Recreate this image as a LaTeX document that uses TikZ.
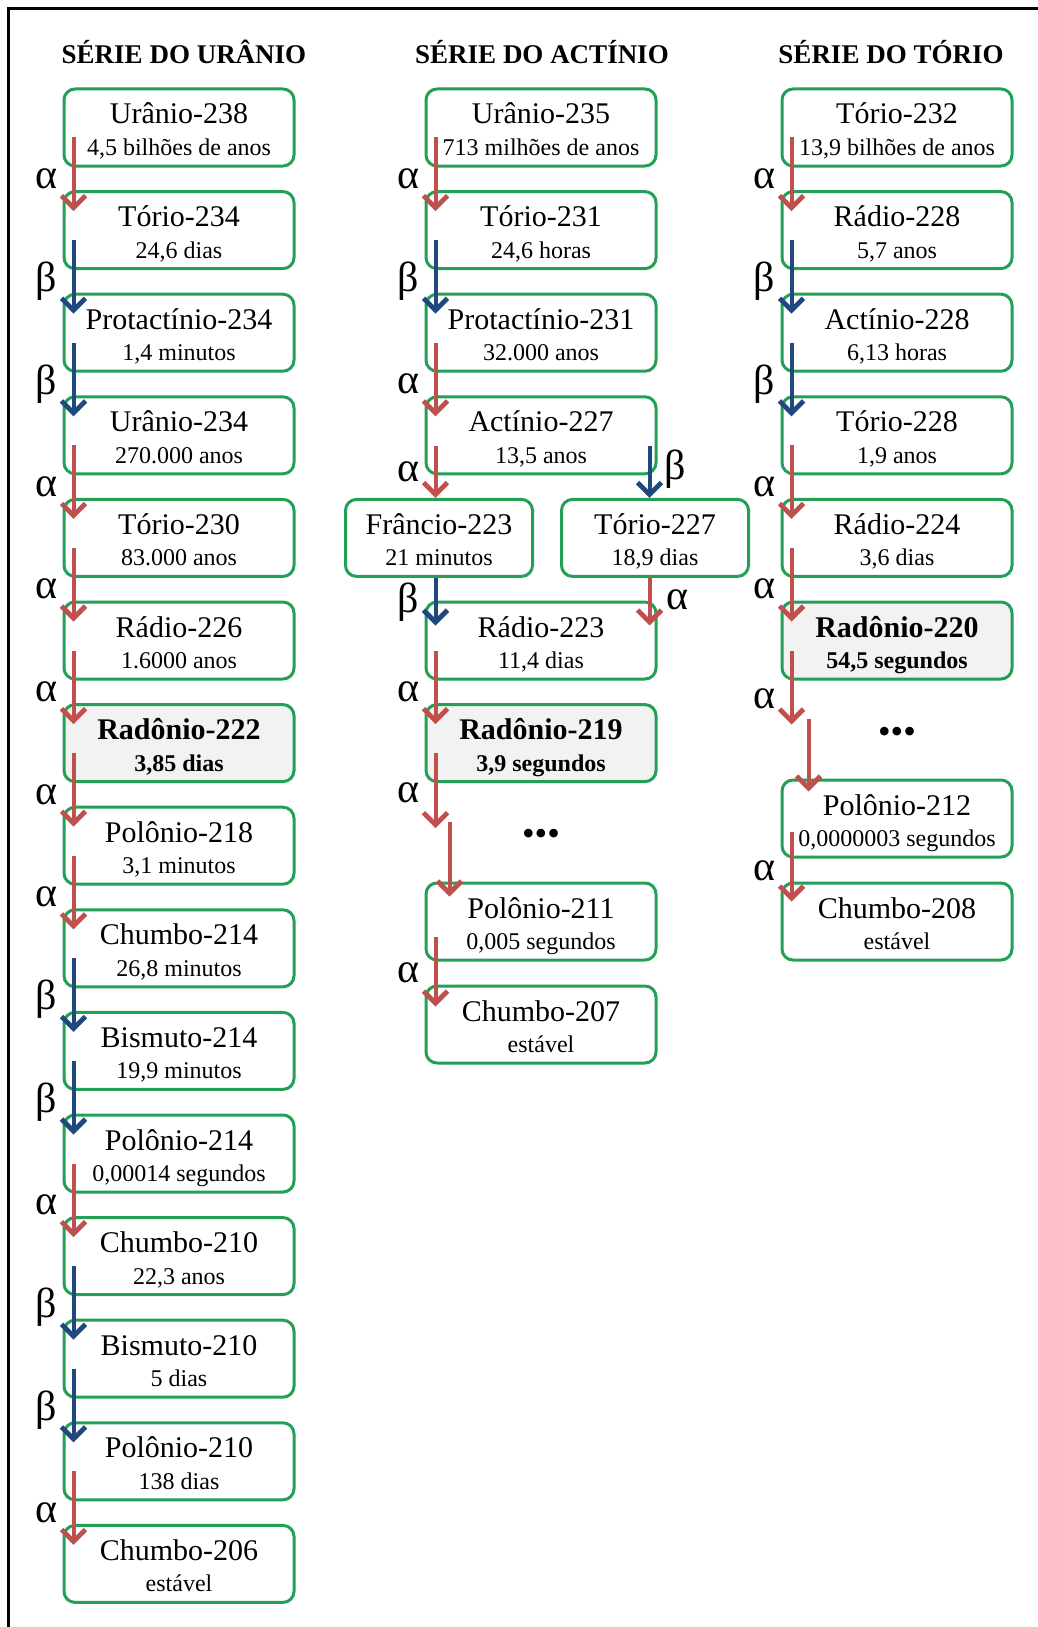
\documentclass[tikz,border=0pt]{standalone}
\usepackage{fontspec}
\setmainfont{Liberation Serif}
\usetikzlibrary{arrows.meta, calc}
\definecolor{isogreen}{RGB}{35,160,85}
\definecolor{alphared}{RGB}{192,80,77}
\definecolor{betablue}{RGB}{31,73,125}
\definecolor{radongray}{RGB}{242,242,242}

\begin{document}
\begin{tikzpicture}[x=0.5pt, y=-0.5pt, >={Straight Barb[length=6pt,width=12pt,line width=2.4pt]},
	iso/.style={draw=isogreen, line width=1.5pt, rounded corners=5.5pt, minimum width=115pt, minimum height=38.5pt, inner sep=0pt, text height=10pt, text depth=13.5pt, font=\fontsize{15}{18}\selectfont},
	radon/.style={iso, fill=radongray, font=\fontsize{15}{18}\selectfont\bfseries},
	small/.style={minimum width=93.5pt},
	hl/.style={anchor=base, label distance=-6pt, inner sep=0pt, font=\fontsize{12}{14}\selectfont},
	hlb/.style={hl, font=\fontsize{12}{14}\selectfont\bfseries},
	adecay/.style={->, line width=2pt, alphared},
	bdecay/.style={->, line width=2pt, betablue},
	dlbl/.style={font=\fontsize{21}{24}\selectfont, inner sep=0pt, text=black},
	serie/.style={font=\fontsize{13.5}{16}\selectfont\bfseries},
	dots/.style={font=\fontsize{18}{20}\selectfont}]
		\useasboundingbox (0,0) rectangle (1038,1627);
		\draw[line width=1.5pt] (8,1627) -- (8,9) -- (1038,9);
		\node[serie] (tu) at (184,52) {SÉRIE DO URÂNIO}; \node[serie] (ta) at (542,52) {SÉRIE DO ACTÍNIO}; \node[serie] (tt) at (891,52) {SÉRIE DO TÓRIO};

		\node[iso, label={[hl]south:4,5 bilhões de anos}] (u0) at (179,127.5) {Urânio-238};
		\node[iso, label={[hl]south:24,6 dias}] (u1) at (179,230.1) {Tório-234};
		\node[iso, label={[hl]south:1,4 minutos}] (u2) at (179,332.7) {Protactínio-234};
		\node[iso, label={[hl]south:270.000 anos}] (u3) at (179,435.3) {Urânio-234};
		\node[iso, label={[hl]south:83.000 anos}] (u4) at (179,537.9) {Tório-230};
		\node[iso, label={[hl]south:1.6000 anos}] (u5) at (179,640.5) {Rádio-226};
		\node[radon, label={[hlb]south:3,85 dias}] (u6) at (179,743.1) {Radônio-222};
		\node[iso, label={[hl]south:3,1 minutos}] (u7) at (179,845.7) {Polônio-218};
		\node[iso, label={[hl]south:26,8 minutos}] (u8) at (179,948.3) {Chumbo-214};
		\node[iso, label={[hl]south:19,9 minutos}] (u9) at (179,1050.9) {Bismuto-214};
		\node[iso, label={[hl]south:0,00014 segundos}] (u10) at (179,1153.5) {Polônio-214};
		\node[iso, label={[hl]south:22,3 anos}] (u11) at (179,1256.1) {Chumbo-210};
		\node[iso, label={[hl]south:5 dias}] (u12) at (179,1358.7) {Bismuto-210};
		\node[iso, label={[hl]south:138 dias}] (u13) at (179,1461.3) {Polônio-210};
		\node[iso, label={[hl]south:estável}] (u14) at (179,1563.9) {Chumbo-206};

		\draw[adecay] ([xshift=5.5pt,yshift=15pt]u0.south west) -- node[dlbl,pos=.56,xshift=-13.5pt]{α} ([xshift=5.5pt,yshift=-10.5pt]u1.north west);
		\draw[bdecay] ([xshift=5.5pt,yshift=15pt]u1.south west) -- node[dlbl,pos=.56,xshift=-13.5pt]{β} ([xshift=5.5pt,yshift=-10.5pt]u2.north west);
		\draw[bdecay] ([xshift=5.5pt,yshift=15pt]u2.south west) -- node[dlbl,pos=.56,xshift=-13.5pt]{β} ([xshift=5.5pt,yshift=-10.5pt]u3.north west);
		\draw[adecay] ([xshift=5.5pt,yshift=15pt]u3.south west) -- node[dlbl,pos=.56,xshift=-13.5pt]{α} ([xshift=5.5pt,yshift=-10.5pt]u4.north west);
		\draw[adecay] ([xshift=5.5pt,yshift=15pt]u4.south west) -- node[dlbl,pos=.56,xshift=-13.5pt]{α} ([xshift=5.5pt,yshift=-10.5pt]u5.north west);
		\draw[adecay] ([xshift=5.5pt,yshift=15pt]u5.south west) -- node[dlbl,pos=.56,xshift=-13.5pt]{α} ([xshift=5.5pt,yshift=-10.5pt]u6.north west);
		\draw[adecay] ([xshift=5.5pt,yshift=15pt]u6.south west) -- node[dlbl,pos=.56,xshift=-13.5pt]{α} ([xshift=5.5pt,yshift=-10.5pt]u7.north west);
		\draw[adecay] ([xshift=5.5pt,yshift=15pt]u7.south west) -- node[dlbl,pos=.56,xshift=-13.5pt]{α} ([xshift=5.5pt,yshift=-10.5pt]u8.north west);
		\draw[bdecay] ([xshift=5.5pt,yshift=15pt]u8.south west) -- node[dlbl,pos=.56,xshift=-13.5pt]{β} ([xshift=5.5pt,yshift=-10.5pt]u9.north west);
		\draw[bdecay] ([xshift=5.5pt,yshift=15pt]u9.south west) -- node[dlbl,pos=.56,xshift=-13.5pt]{β} ([xshift=5.5pt,yshift=-10.5pt]u10.north west);
		\draw[adecay] ([xshift=5.5pt,yshift=15pt]u10.south west) -- node[dlbl,pos=.56,xshift=-13.5pt]{α} ([xshift=5.5pt,yshift=-10.5pt]u11.north west);
		\draw[bdecay] ([xshift=5.5pt,yshift=15pt]u11.south west) -- node[dlbl,pos=.56,xshift=-13.5pt]{β} ([xshift=5.5pt,yshift=-10.5pt]u12.north west);
		\draw[bdecay] ([xshift=5.5pt,yshift=15pt]u12.south west) -- node[dlbl,pos=.56,xshift=-13.5pt]{β} ([xshift=5.5pt,yshift=-10.5pt]u13.north west);
		\draw[adecay] ([xshift=5.5pt,yshift=15pt]u13.south west) -- node[dlbl,pos=.56,xshift=-13.5pt]{α} ([xshift=5.5pt,yshift=-10.5pt]u14.north west);

		\node[iso, label={[hl]south:713 milhões de anos}] (a0) at (541,127.5) {Urânio-235};
		\node[iso, label={[hl]south:24,6 horas}] (a1) at (541,230.1) {Tório-231};
		\node[iso, label={[hl]south:32.000 anos}] (a2) at (541,332.7) {Protactínio-231};
		\node[iso, label={[hl]south:13,5 anos}] (a3) at (541,435.3) {Actínio-227};
		\node[iso, small, label={[hl]south:21 minutos}] (fr) at (439,537.9) {Frâncio-223}; \node[iso, small, label={[hl]south:18,9 dias}] (th7) at (655,537.9) {Tório-227};
		\node[iso, label={[hl]south:11,4 dias}] (a5) at (541,640.5) {Rádio-223};
		\node[radon, label={[hlb]south:3,9 segundos}] (a6) at (541,743.1) {Radônio-219};
		\node[dots] (adots) at (541,837) {•••};
		\node[iso, label={[hl]south:0,005 segundos}] (a7) at (541,921.5) {Polônio-211};
		\node[iso, label={[hl]south:estável}] (a8) at (541,1024.5) {Chumbo-207};

		\draw[adecay] ([xshift=5.5pt,yshift=15pt]a0.south west) -- node[dlbl,pos=.56,xshift=-13.5pt]{α} ([xshift=5.5pt,yshift=-10.5pt]a1.north west);
		\draw[bdecay] ([xshift=5.5pt,yshift=15pt]a1.south west) -- node[dlbl,pos=.56,xshift=-13.5pt]{β} ([xshift=5.5pt,yshift=-10.5pt]a2.north west);
		\draw[adecay] ([xshift=5.5pt,yshift=15pt]a2.south west) -- node[dlbl,pos=.56,xshift=-13.5pt]{α} ([xshift=5.5pt,yshift=-10.5pt]a3.north west);
		\draw[adecay] ([xshift=5.5pt,yshift=14.5pt]a3.south west) -- node[dlbl,pos=.5,xshift=-13.5pt]{α} ([xshift=5.5pt]a3.south west |- fr.north);
		\draw[bdecay] ([xshift=-4pt,yshift=14.5pt]a3.south east) -- node[dlbl,pos=.45,xshift=13pt]{β} ([xshift=-4pt]a3.south east |- th7.north);
		\draw[bdecay] ([xshift=5.5pt]a5.north west |- fr.south) -- node[dlbl,pos=.5,xshift=-13.5pt]{β} ([xshift=5.5pt,yshift=-12.5pt]a5.north west);
		\draw[adecay] ([xshift=-4pt]a5.north east |- th7.south) -- node[dlbl,pos=.45,xshift=14pt]{α} ([xshift=-4pt,yshift=-12.5pt]a5.north east);
		\draw[adecay] ([xshift=5.5pt,yshift=15pt]a5.south west) -- node[dlbl,pos=.56,xshift=-13.5pt]{α} ([xshift=5.5pt,yshift=-10.5pt]a6.north west);
		\draw[adecay] ([xshift=5.5pt,yshift=15pt]a6.south west) -- node[dlbl,pos=.53,xshift=-13.5pt]{α} ([xshift=5.5pt,yshift=-22.5pt]a6.south west);
		\draw[adecay] ([xshift=12.5pt,yshift=30pt]a7.north west) -- ([xshift=12.5pt,yshift=-7.5pt]a7.north west);
		\draw[adecay] ([xshift=5.5pt,yshift=12.5pt]a7.south west) -- node[dlbl,pos=.52,xshift=-13.5pt]{α} ([xshift=5.5pt,yshift=-11pt]a8.north west);

		\node[iso, label={[hl]south:13,9 bilhões de anos}] (t0) at (897,127.5) {Tório-232};
		\node[iso, label={[hl]south:5,7 anos}] (t1) at (897,230.1) {Rádio-228};
		\node[iso, label={[hl]south:6,13 horas}] (t2) at (897,332.7) {Actínio-228};
		\node[iso, label={[hl]south:1,9 anos}] (t3) at (897,435.3) {Tório-228};
		\node[iso, label={[hl]south:3,6 dias}] (t4) at (897,537.9) {Rádio-224};
		\node[radon, label={[hlb]south:54,5 segundos}] (t5) at (897,640.5) {Radônio-220};
		\node[dots] (tdots) at (897,735) {•••};
		\node[iso, label={[hl]south:0,0000003 segundos}] (t6) at (897,818.5) {Polônio-212};
		\node[iso, label={[hl]south:estável}] (t7) at (897,921.5) {Chumbo-208};

		\draw[adecay] ([xshift=5.5pt,yshift=15pt]t0.south west) -- node[dlbl,pos=.56,xshift=-13.5pt]{α} ([xshift=5.5pt,yshift=-10.5pt]t1.north west);
		\draw[bdecay] ([xshift=5.5pt,yshift=15pt]t1.south west) -- node[dlbl,pos=.56,xshift=-13.5pt]{β} ([xshift=5.5pt,yshift=-10.5pt]t2.north west);
		\draw[bdecay] ([xshift=5.5pt,yshift=15pt]t2.south west) -- node[dlbl,pos=.56,xshift=-13.5pt]{β} ([xshift=5.5pt,yshift=-10.5pt]t3.north west);
		\draw[adecay] ([xshift=5.5pt,yshift=15pt]t3.south west) -- node[dlbl,pos=.56,xshift=-13.5pt]{α} ([xshift=5.5pt,yshift=-10.5pt]t4.north west);
		\draw[adecay] ([xshift=5.5pt,yshift=15pt]t4.south west) -- node[dlbl,pos=.56,xshift=-13.5pt]{α} ([xshift=5.5pt,yshift=-10.5pt]t5.north west);
		\draw[adecay] ([xshift=5.5pt,yshift=15pt]t5.south west) -- node[dlbl,pos=.65,xshift=-13.5pt]{α} ([xshift=5.5pt,yshift=-22pt]t5.south west);
		\draw[adecay] ([xshift=14pt,yshift=30pt]t6.north west) -- ([xshift=14pt,yshift=-6.5pt]t6.north west);
		\draw[adecay] ([xshift=5.5pt,yshift=13.5pt]t6.south west) -- node[dlbl,pos=.56,xshift=-13.5pt]{α} ([xshift=5.5pt,yshift=-10pt]t7.north west);
	\end{tikzpicture}
\end{document}
